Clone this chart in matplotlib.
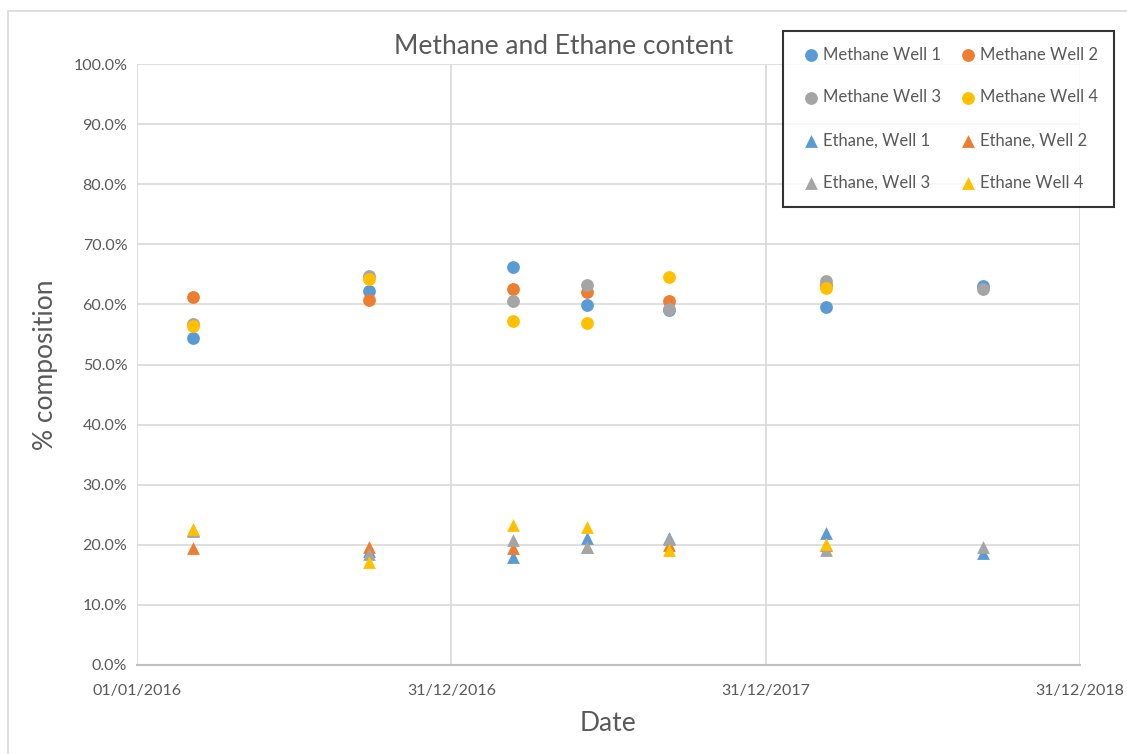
import matplotlib.pyplot as plt
import matplotlib.dates as mdates
import numpy as np
from datetime import datetime
from matplotlib.patches import Rectangle

plt.rcParams['font.family'] = ['Lato', 'DejaVu Sans']

# sampling dates
dates = [datetime(2016, 3, 6), datetime(2016, 9, 26), datetime(2017, 3, 13),
         datetime(2017, 6, 6), datetime(2017, 9, 10), datetime(2018, 3, 11),
         datetime(2018, 9, 9)]

# methane content (%)
methane_w1 = [54.4, 62.3, 66.3, 59.9, 59.0, 59.5, 63.1]
methane_w2 = [61.3, 60.7, 62.6, 62.1, 60.5, 63.2, np.nan]
methane_w3 = [56.7, 64.7, 60.6, 63.2, 59.2, 63.9, 62.5]
methane_w4 = [56.4, 64.3, 57.2, 56.9, 64.5, 62.8, np.nan]

# ethane content (%)
ethane_w1 = [22.4, 18.9, 18.0, 21.2, 21.1, 21.9, 18.6]
ethane_w2 = [19.5, 19.6, 19.4, 19.6, 20.0, 20.0, np.nan]
ethane_w3 = [22.3, 18.5, 20.8, 19.7, 20.9, 19.1, 19.7]
ethane_w4 = [22.6, 17.2, 23.3, 22.9, 19.1, 20.2, np.nan]

blue, orange, grey, yellow = '#5B9BD5', '#ED7D31', '#A5A5A5', '#FFC000'
text_col = '#595959'

fig = plt.figure(figsize=(11.27, 7.54), dpi=100)
W, H = 1127, 754
ax = fig.add_axes([137 / W, 1 - 665 / H, (1080 - 137) / W, (665 - 64) / H])

# chart frame
fig.patches.append(Rectangle((8 / W, -0.1), 1.2, 1 - 11 / H + 0.1, transform=fig.transFigure,
                             fill=False, edgecolor='#D9D9D9', linewidth=1.2))

series = [
    ('Methane Well 1', methane_w1, blue, 'o'),
    ('Methane Well 2', methane_w2, orange, 'o'),
    ('Methane Well 3', methane_w3, grey, 'o'),
    ('Methane Well 4', methane_w4, yellow, 'o'),
    ('Ethane, Well 1', ethane_w1, blue, '^'),
    ('Ethane, Well 2', ethane_w2, orange, '^'),
    ('Ethane, Well 3', ethane_w3, grey, '^'),
    ('Ethane Well 4', ethane_w4, yellow, '^'),
]
handles = {}
for name, vals, col, mk in series:
    h = ax.scatter(dates, np.array(vals) / 100, s=85, color=col, marker=mk,
                   linewidths=0, zorder=3, label=name)
    handles[name] = h

ax.set_xlim(datetime(2016, 1, 1), datetime(2018, 12, 31))
ax.set_ylim(0, 1.0)
ax.set_xticks([datetime(2016, 1, 1), datetime(2016, 12, 31),
               datetime(2017, 12, 31), datetime(2018, 12, 31)])
ax.xaxis.set_major_formatter(mdates.DateFormatter('%d/%m/%Y'))
ax.set_yticks(np.arange(0, 1.01, 0.1))
ax.yaxis.set_major_formatter(plt.FuncFormatter(lambda v, p: f'{v * 100:.1f}%'))

ax.grid(True, color='#D9D9D9', linewidth=1.2)
ax.set_axisbelow(True)
for s in ['top', 'right', 'left']:
    ax.spines[s].set_visible(False)
ax.spines['bottom'].set_color('#BFBFBF')
ax.spines['bottom'].set_linewidth(1.5)
ax.tick_params(length=0, labelsize=11.5, colors=text_col)
ax.tick_params(axis='x', pad=14)
ax.tick_params(axis='y', pad=7)

fig.text(0.5, 1 - 46 / H, 'Methane and Ethane content', fontsize=19,
         color=text_col, ha='center', va='center')
ax.set_ylabel('% composition', fontsize=19, color=text_col, labelpad=11)
ax.set_xlabel('Date', fontsize=19, color=text_col, labelpad=9)

# legend filled column-wise, so order entries to read across rows
order = ['Methane Well 1', 'Methane Well 3', 'Ethane, Well 1', 'Ethane, Well 3',
         'Methane Well 2', 'Methane Well 4', 'Ethane, Well 2', 'Ethane Well 4']
leg = fig.legend([handles[n] for n in order], order, ncol=2,
                 loc='upper left', bbox_to_anchor=(783 / W, 1 - 31 / H),
                 borderaxespad=0, fontsize=12, frameon=True, fancybox=False,
                 labelspacing=1.6, handletextpad=0.05, columnspacing=0.9,
                 borderpad=0.95, scatterpoints=1, markerscale=1.0, handlelength=1.4)
leg.get_frame().set_edgecolor('black')
leg.get_frame().set_linewidth(1.5)
for t in leg.get_texts():
    t.set_color(text_col)

plt.savefig('out.png', dpi=100)
